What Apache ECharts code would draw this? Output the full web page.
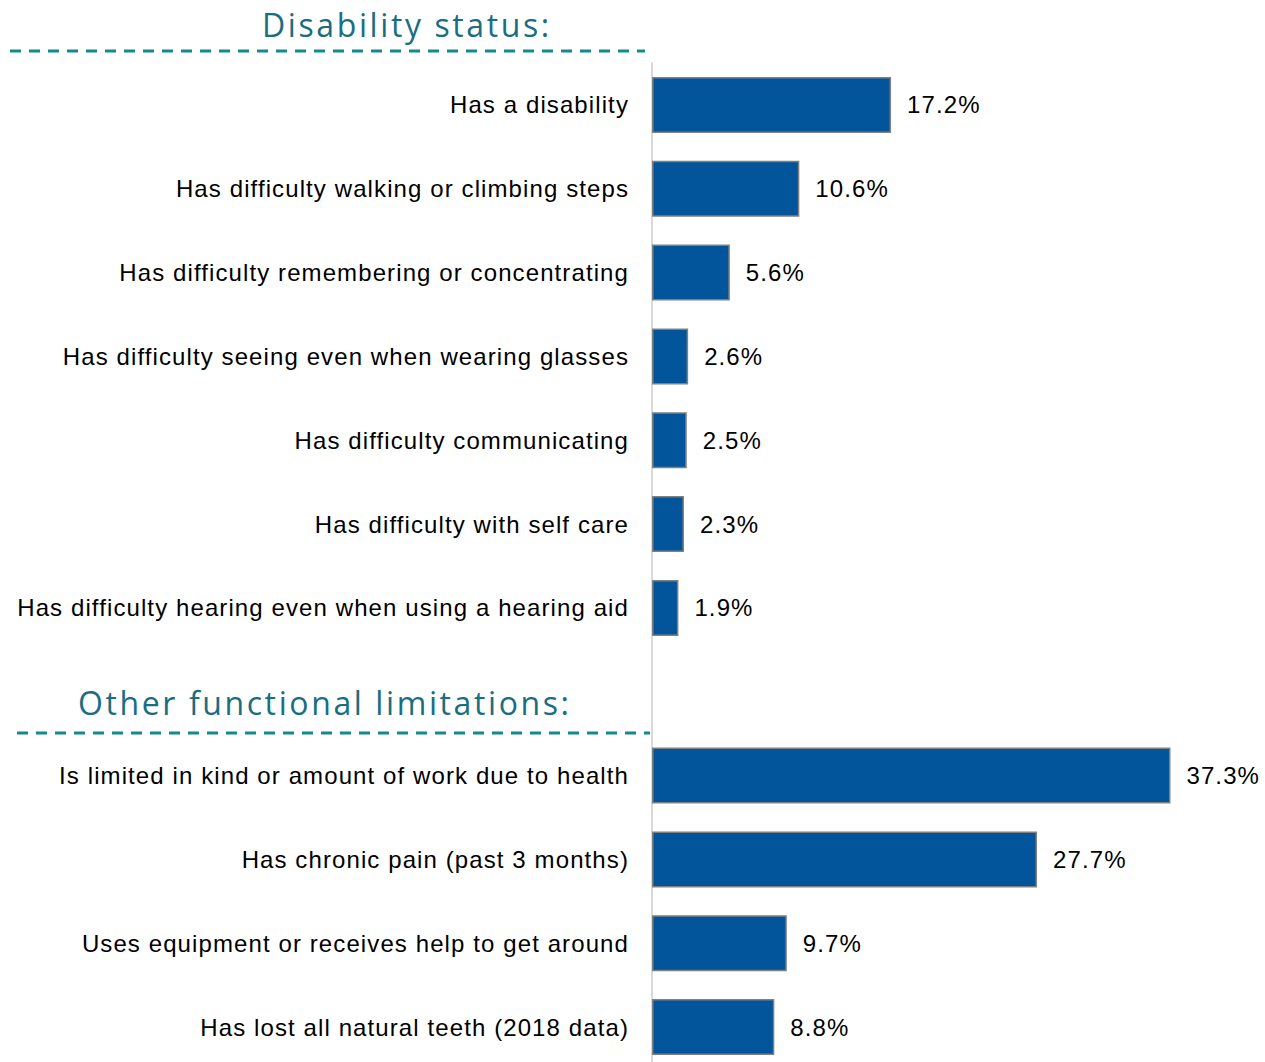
<!DOCTYPE html>
<html>
<head>
<meta charset="utf-8">
<script src="https://cdn.jsdelivr.net/npm/echarts@6/dist/echarts.min.js"></script>
<style>
html,body{margin:0;padding:0;background:#fff;overflow:hidden;}
#chart{width:1265px;height:1080px;}
#chart svg text{letter-spacing:1.1px;}
#chart svg text[style*="Open Sans"]{letter-spacing:2.6px;}
</style>
</head>
<body>
<div id="chart"></div>
<script>
const groupTitles = ['Disability status:', 'Other functional limitations:'];
const categories = [
  'Has a disability',
  'Has difficulty walking or climbing steps',
  'Has difficulty remembering or concentrating',
  'Has difficulty seeing even when wearing glasses',
  'Has difficulty communicating',
  'Has difficulty with self care',
  'Has difficulty hearing even when using a hearing aid',
  '',
  'Is limited in kind or amount of work due to health',
  'Has chronic pain (past 3 months)',
  'Uses equipment or receives help to get around',
  'Has lost all natural teeth (2018 data)'
];
const values = [17.2, 10.6, 5.6, 2.6, 2.5, 2.3, 1.9, null, 37.3, 27.7, 9.7, 8.8];

const chart = echarts.init(document.getElementById('chart'), null, {renderer: 'svg'});
const titleStyle = {fontFamily: '"Open Sans"', fontSize: 32, fill: '#1a6e80'};
chart.setOption({
  animation: false,
  backgroundColor: '#ffffff',
  grid: {left: 652, top: 63, width: 556, height: 1006, containLabel: false},
  xAxis: {type: 'value', min: 0, max: 40, show: false},
  yAxis: {
    type: 'category', data: categories, inverse: true,
    axisLine: {show: true, lineStyle: {color: '#d9d9d9', width: 2}},
    axisTick: {show: false},
    axisLabel: {
      margin: 23, color: '#000', fontSize: 24,
      fontFamily: '"Liberation Sans", Arial, sans-serif'
    }
  },
  series: [{
    type: 'bar',
    data: values,
    barWidth: 56,
    itemStyle: {color: '#02559b', borderColor: '#808080', borderWidth: 1.5},
    label: {
      show: true, position: 'right', distance: 16,
      color: '#000', fontSize: 24,
      fontFamily: '"Liberation Sans", Arial, sans-serif',
      formatter: p => p.value == null ? '' : p.value.toFixed(1) + '%'
    }
  }],
  graphic: [
    {type: 'text', left: 262, top: 8, style: Object.assign({text: groupTitles[0]}, titleStyle)},
    {type: 'line', shape: {x1: 10, y1: 51, x2: 645, y2: 51},
      style: {stroke: '#138a8f', lineWidth: 3, lineDash: [11, 8]}},
    {type: 'text', left: 78, top: 686, style: Object.assign({text: groupTitles[1]}, titleStyle)},
    {type: 'line', shape: {x1: 17, y1: 733, x2: 650, y2: 733},
      style: {stroke: '#138a8f', lineWidth: 3, lineDash: [11, 8]}}
  ]
});
</script>
</body>
</html>
